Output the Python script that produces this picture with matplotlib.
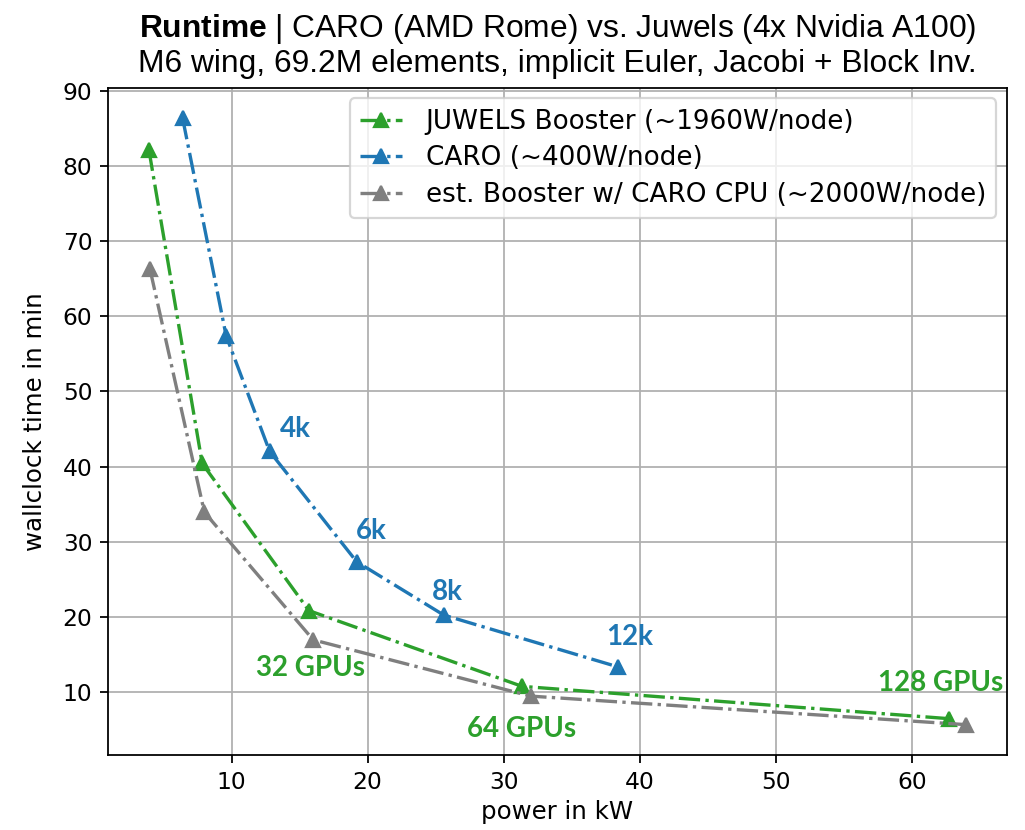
import numpy as np
import matplotlib.pyplot as plt

plt.rcParams['mathtext.fontset'] = 'custom'
plt.rcParams['mathtext.bf'] = 'Liberation Sans:bold'
plt.rcParams['mathtext.rm'] = 'Liberation Sans'

# JUWELS Booster (4x A100 per node, ~1960 W/node)
juwels_kw = [3.92, 7.84, 15.68, 31.36, 62.72]
juwels_min = [82.2, 40.4, 20.8, 10.7, 6.4]
# CARO (AMD Rome, ~400 W/node)
caro_kw = [6.4, 9.6, 12.8, 19.2, 25.6, 38.4]
caro_min = [86.4, 57.4, 42.0, 27.3, 20.2, 13.3]
# estimated Booster with CARO CPU (~2000 W/node)
est_kw = [4.0, 8.0, 16.0, 32.0, 64.0]
est_min = [66.3, 33.9, 16.9, 9.4, 5.6]

caro_labels = ['4k', '6k', '8k', '12k']
caro_label_pos = [(14.7, 45.0), (20.3, 31.4), (25.9, 23.3), (39.3, 17.3)]
gpu_labels = ['32 GPUs', '64 GPUs', '128 GPUs']
gpu_label_pos = [(15.8, 13.2), (31.3, 5.0), (62.1, 11.2)]

green = '#2ca02c'
blue = '#1f77b4'
gray = '#7f7f7f'

fig = plt.figure(figsize=(1025 / 160, 830 / 160), dpi=160)
ax = fig.add_axes([0.1054, 0.0904, 0.877, 0.8036])

ax.plot(juwels_kw, juwels_min, '-.^', color=green, label='JUWELS Booster (~1960W/node)')
ax.plot(caro_kw, caro_min, '-.^', color=blue, label='CARO (~400W/node)')
ax.plot(est_kw, est_min, '-.^', color=gray, label='est. Booster w/ CARO CPU (~2000W/node)')

for lab, (x, y) in zip(caro_labels, caro_label_pos):
    ax.text(x, y, lab, color=blue, fontsize=12.5, fontweight='bold', family='Lato',
            ha='center', va='center')
for lab, (x, y) in zip(gpu_labels, gpu_label_pos):
    ax.text(x, y, lab, color=green, fontsize=12.5, fontweight='bold', family='Lato',
            ha='center', va='center')

ax.grid(True)
ax.legend(loc='upper right', fontsize=11.8, borderaxespad=0.4, handlelength=1.6,
          handletextpad=0.9, labelspacing=0.4)
ax.set_xlabel('power in kW', fontsize=11, labelpad=3)
ax.set_ylabel('wallclock time in min', fontsize=11, labelpad=7)
ax.tick_params(labelsize=10.5)
ax.set_title('$\\mathbf{Runtime}$ | CARO (AMD Rome) vs. Juwels (4x Nvidia A100)\n'
             'M6 wing, 69.2M elements, implicit Euler, Jacobi + Block Inv.',
             family='Liberation Sans', fontsize=14.3, pad=7, linespacing=1.15)

fig.savefig('out.png', dpi=160)
